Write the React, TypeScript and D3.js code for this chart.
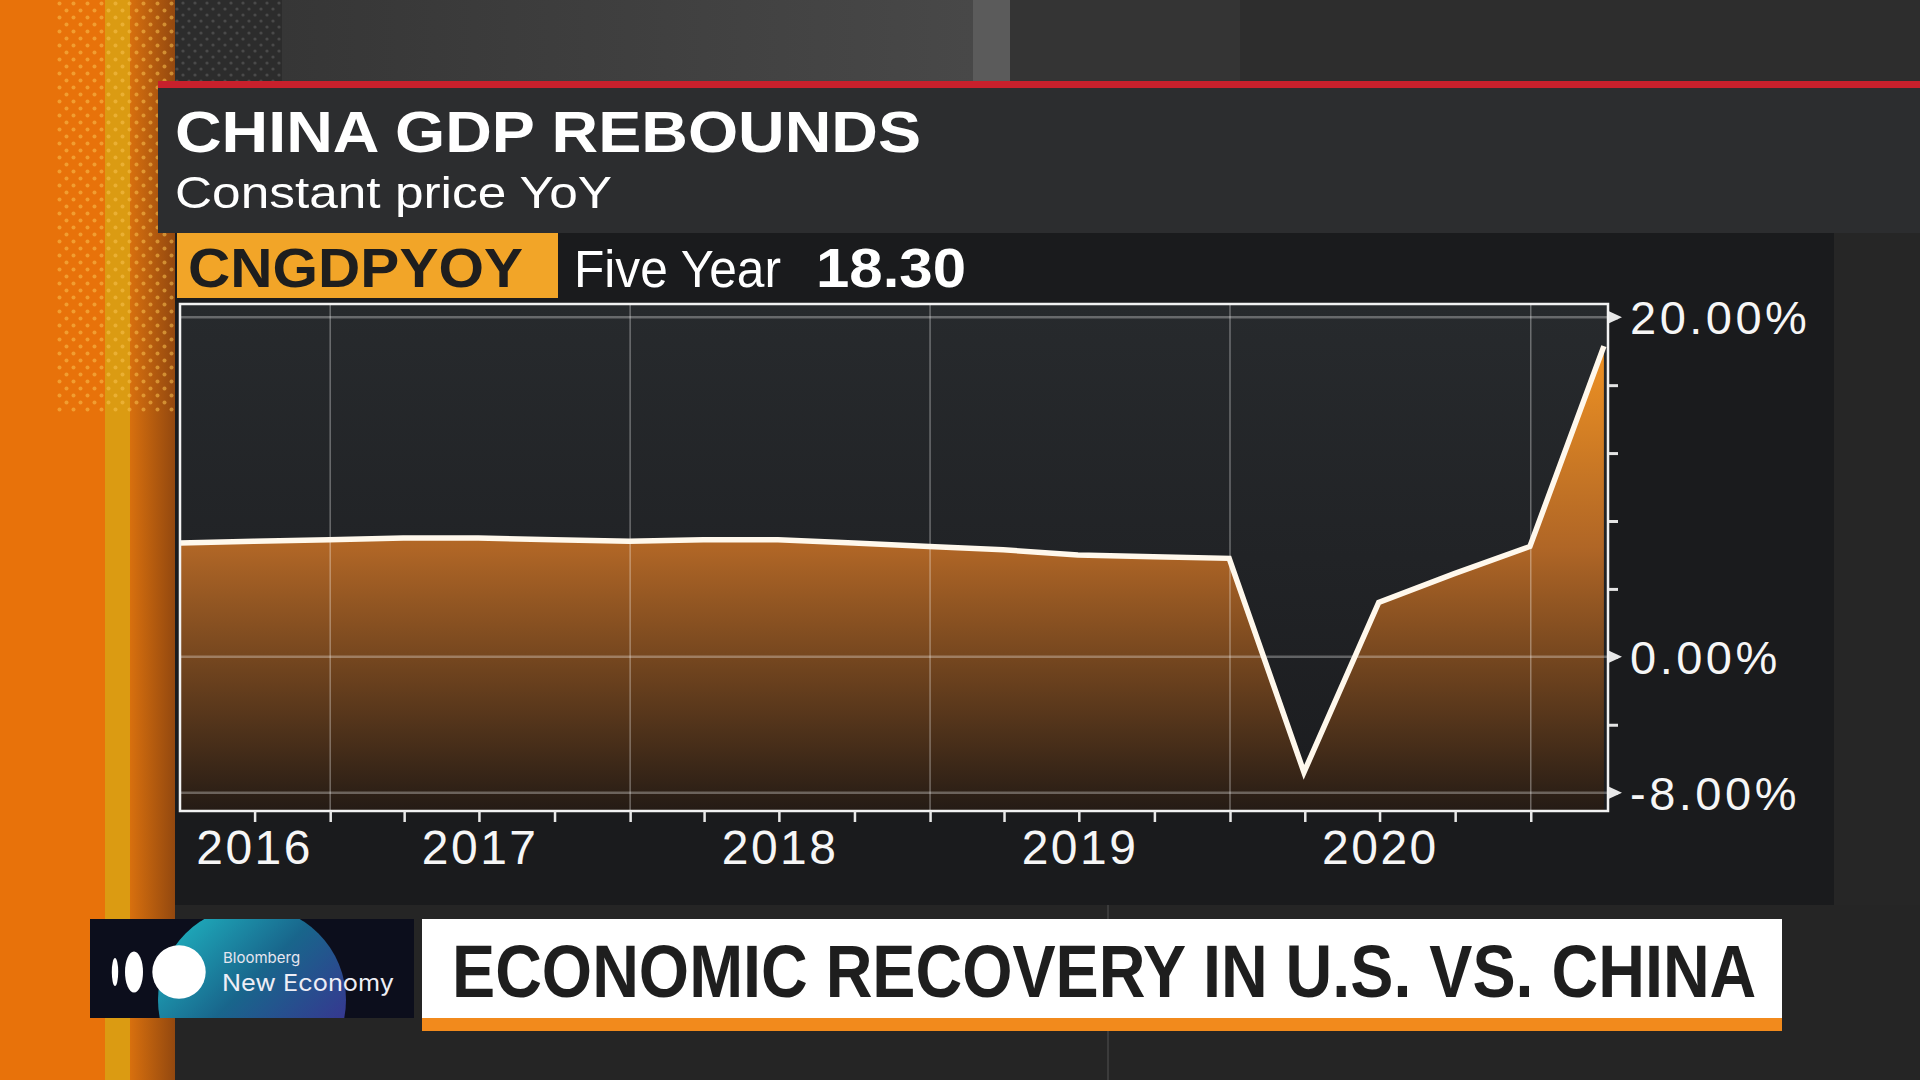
import { useEffect, useRef } from 'react'
import * as d3 from 'd3'

// China real GDP, YoY %, quarterly (plotted at quarter end)
const quarterEnds = [
    "2016-06-30", "2016-09-30", "2016-12-31",
    "2017-03-31", "2017-06-30", "2017-09-30", "2017-12-31",
    "2018-03-31", "2018-06-30", "2018-09-30", "2018-12-31",
    "2019-03-31", "2019-06-30", "2019-09-30", "2019-12-31",
    "2020-03-31", "2020-06-30", "2020-09-30", "2020-12-31",
    "2021-03-31"
]
const gdpYoY = [
    6.7, 6.8, 6.9,
    7.0, 7.0, 6.9, 6.8,
    6.9, 6.9, 6.7, 6.5,
    6.3, 6.0, 5.9, 5.8,
    -6.8, 3.2, 4.9, 6.5,
    18.3
]
const yearLabels = ["2016", "2017", "2018", "2019", "2020"]
const yMajorTicks = [20, 0, -8]
const yMajorLabels = ["20.00%", "0.00%", "-8.00%"]
const yMinorTicks = [-8, -4, 0, 4, 8, 12, 16, 20]
const title = "CHINA GDP REBOUNDS"
const subtitle = "Constant price YoY"
const ticker = "CNGDPYOY"
const period = "Five Year"
const headline = "ECONOMIC RECOVERY IN U.S. VS. CHINA"

const parseDate = d3.timeParse("%Y-%m-%d")

function GdpChart() {
    const ref = useRef(null)

    useEffect(() => {
        const left = 179
        const right = 1608
        const top = 304
        const bottom = 811

        const g = d3.select(ref.current)
        g.selectAll("*").remove()

        const data = quarterEnds.map((d, i) => ({ date: parseDate(d), value: gdpYoY[i] }))

        const xStart = parseDate("2016-07-01")
        const xEnd = parseDate("2021-04-05")

        const xScale = d3
            .scaleTime()
            .domain([xStart, xEnd])
            .range([left, right])

        const yScale = d3
            .scaleLinear()
            .domain([-9.08, 20.78])
            .range([bottom, top])

        const defs = g.append("defs")

        const fillGrad = defs
            .append("linearGradient")
            .attr("id", "areaFill")
            .attr("gradientUnits", "userSpaceOnUse")
            .attr("x1", 0).attr("x2", 0)
            .attr("y1", top).attr("y2", bottom)
        fillGrad.append("stop").attr("offset", 0).attr("stop-color", "#fc9b22")
        fillGrad.append("stop").attr("offset", 0.48).attr("stop-color", "#b06626")
        fillGrad.append("stop").attr("offset", 1).attr("stop-color", "#241b15")

        const bgGrad = defs
            .append("linearGradient")
            .attr("id", "plotBg")
            .attr("x1", 0).attr("x2", 0)
            .attr("y1", 0).attr("y2", 1)
        bgGrad.append("stop").attr("offset", 0).attr("stop-color", "#272a2d")
        bgGrad.append("stop").attr("offset", 1).attr("stop-color", "#1b1c1f")

        defs
            .append("clipPath")
            .attr("id", "plotClip")
            .append("rect")
            .attr("x", left + 1)
            .attr("y", top)
            .attr("width", right - left - 1)
            .attr("height", bottom - top)

        g
            .append("rect")
            .attr("x", left)
            .attr("y", top)
            .attr("width", right - left)
            .attr("height", bottom - top)
            .attr("fill", "url(#plotBg)")

        const plot = g.append("g").attr("clip-path", "url(#plotClip)")

        const area = d3
            .area()
            .x(d => xScale(d.date))
            .y0(bottom)
            .y1(d => yScale(d.value))

        const line = d3
            .line()
            .x(d => xScale(d.date))
            .y(d => yScale(d.value))

        plot
            .append("path")
            .datum(data)
            .attr("d", area)
            .attr("fill", "url(#areaFill)")

        // year gridlines
        plot
            .selectAll(".vgrid")
            .data(d3.timeYear.range(parseDate("2017-01-01"), parseDate("2021-02-01")))
            .enter()
            .append("line")
            .attr("x1", d => xScale(d))
            .attr("x2", d => xScale(d))
            .attr("y1", top)
            .attr("y2", bottom)
            .style("stroke", "rgba(255,255,255,0.33)")
            .style("stroke-width", 1.5)

        plot
            .selectAll(".hgrid")
            .data(yMajorTicks)
            .enter()
            .append("line")
            .attr("x1", left)
            .attr("x2", right)
            .attr("y1", d => yScale(d))
            .attr("y2", d => yScale(d))
            .style("stroke", "rgba(255,255,255,0.3)")
            .style("stroke-width", 2.5)

        plot
            .append("path")
            .datum(data)
            .attr("d", line)
            .style("fill", "none")
            .style("stroke", "#fff8ec")
            .style("stroke-width", 5.5)
            .style("stroke-linejoin", "miter")

        g
            .append("rect")
            .attr("x", left + 1)
            .attr("y", top)
            .attr("width", right - left - 1)
            .attr("height", bottom - top)
            .style("fill", "none")
            .style("stroke", "#f2f2f2")
            .style("stroke-width", 2.5)

        // right axis
        const yAxis = g
            .append("g")
            .attr("transform", `translate(${right + 1}, 0)`)
            .call(d3.axisRight(yScale).tickValues(yMinorTicks).tickSize(9).tickFormat(() => ""))
        yAxis.select(".domain").remove()
        yAxis.selectAll("line").style("stroke", "#e4e4e4").style("stroke-width", 3)

        g
            .selectAll(".marker")
            .data(yMajorTicks)
            .enter()
            .append("path")
            .attr("d", d => `M${right + 1},${yScale(d) - 6}L${right + 1},${yScale(d) + 6}L${right + 14},${yScale(d)}Z`)
            .attr("fill", "#e8e8e8")

        g
            .selectAll(".ylabel")
            .data(yMajorTicks)
            .enter()
            .append("text")
            .attr("x", right + 22)
            .attr("y", d => yScale(d) + 17)
            .attr("fill", "#f6f6f6")
            .style("font-family", "'Liberation Sans', Arial, sans-serif")
            .style("font-size", "47px")
            .style("letter-spacing", "3.5px")
            .text((d, i) => yMajorLabels[i])

        // bottom axis: quarter ticks
        const xAxis = g
            .append("g")
            .attr("transform", `translate(0, ${bottom})`)
            .call(d3
                .axisBottom(xScale)
                .tickValues(d3.timeMonth.every(3).range(parseDate("2016-10-01"), parseDate("2021-02-01")))
                .tickSize(11)
                .tickFormat(() => ""))
        xAxis.select(".domain").remove()
        xAxis.selectAll("line").style("stroke", "#e8e8e8").style("stroke-width", 2.5)

        g
            .selectAll(".xlabel")
            .data(yearLabels)
            .enter()
            .append("text")
            .attr("x", d => {
                const a = d3.max([parseDate(`${d}-01-01`), xStart])
                const b = d3.min([parseDate(`${+d + 1}-01-01`), xEnd])
                return (xScale(a) + xScale(b)) / 2
            })
            .attr("y", 864)
            .attr("text-anchor", "middle")
            .attr("fill", "#f6f6f6")
            .style("font-family", "'Liberation Sans', Arial, sans-serif")
            .style("font-size", "48px")
            .style("letter-spacing", "2.5px")
            .text(d => d)
    }, [])

    return <g ref={ref} />
}

function App() {
    const lastValue = d3.format(".2f")(gdpYoY[gdpYoY.length - 1])

    return (
        <svg
            width={1920}
            height={1080}
            style={{ position: "absolute", left: 0, top: 0, display: "block" }}
        >
            <defs>
                <pattern id="orangeDots" width="14" height="14" patternUnits="userSpaceOnUse">
                    <circle cx="3.5" cy="3.5" r="2" fill="#f7c04e" opacity="0.55" />
                    <circle cx="10.5" cy="10.5" r="2" fill="#f7c04e" opacity="0.55" />
                </pattern>
                <pattern id="grayDots" width="12" height="12" patternUnits="userSpaceOnUse">
                    <circle cx="3" cy="3" r="1.6" fill="#4a4a4a" />
                    <circle cx="9" cy="9" r="1.6" fill="#4a4a4a" />
                </pattern>
                <linearGradient id="orangeEdge" x1="0" x2="1" y1="0" y2="0">
                    <stop offset="0" stopColor="#d8700e" />
                    <stop offset="1" stopColor="#93480f" />
                </linearGradient>
                <linearGradient id="topBg" x1="0" x2="1" y1="0" y2="0">
                    <stop offset="0" stopColor="#363636" />
                    <stop offset="1" stopColor="#484848" />
                </linearGradient>
                <linearGradient id="glow" x1="0" x2="1" y1="0" y2="1">
                    <stop offset="0" stopColor="#22d6de" />
                    <stop offset="0.45" stopColor="#1a6f98" />
                    <stop offset="1" stopColor="#4d1fa0" />
                </linearGradient>
                <clipPath id="logoClip">
                    <rect x={90} y={919} width={324} height={99} />
                </clipPath>
            </defs>

            {/* page background */}
            <rect x={0} y={0} width={1920} height={1080} fill="#272727" />
            <rect x={175} y={0} width={107} height={81} fill="#2c2c2c" />
            <rect x={175} y={0} width={107} height={81} fill="url(#grayDots)" />
            <rect x={282} y={0} width={691} height={81} fill="url(#topBg)" />
            <rect x={973} y={0} width={37} height={81} fill="#5b5b5b" />
            <rect x={1010} y={0} width={230} height={81} fill="#343434" />
            <rect x={1240} y={0} width={680} height={81} fill="#2d2d2d" />
            <rect x={1834} y={233} width={86} height={672} fill="#262626" />
            <rect x={175} y={905} width={1745} height={175} fill="#252525" />
            <line x1={1108} x2={1108} y1={905} y2={1080} stroke="#3b3b3b" strokeWidth={2} />

            {/* left orange stripes */}
            <rect x={0} y={0} width={105} height={1080} fill="#e8720a" />
            <rect x={105} y={0} width={25} height={1080} fill="#db9b12" />
            <rect x={130} y={0} width={45} height={1080} fill="url(#orangeEdge)" />
            <rect x={55} y={0} width={120} height={412} fill="url(#orangeDots)" />

            {/* chart panel */}
            <rect x={175} y={233} width={1659} height={672} fill="#1a1b1d" />

            {/* title panel */}
            <rect x={158} y={81} width={1762} height={152} fill="#2c2d2f" />
            <rect x={158} y={81} width={1762} height={7} fill="#c8202c" />
            <text
                x={175}
                y={152}
                fill="#ffffff"
                fontFamily="'Liberation Sans', Arial, sans-serif"
                fontWeight="bold"
                fontSize={57}
                textLength={746}
                lengthAdjust="spacingAndGlyphs"
            >
                {title}
            </text>
            <text
                x={175}
                y={208}
                fill="#ffffff"
                fontFamily="'Liberation Sans', Arial, sans-serif"
                fontSize={45}
                textLength={437}
                lengthAdjust="spacingAndGlyphs"
            >
                {subtitle}
            </text>

            {/* ticker row */}
            <rect x={177} y={233} width={381} height={65} fill="#f2a528" />
            <text
                x={188}
                y={287}
                fill="#1e1e1e"
                fontFamily="'Liberation Sans', Arial, sans-serif"
                fontWeight="bold"
                fontSize={56}
                textLength={335}
                lengthAdjust="spacingAndGlyphs"
            >
                {ticker}
            </text>
            <text
                x={574}
                y={287}
                fill="#ffffff"
                fontFamily="'Liberation Sans', Arial, sans-serif"
                fontSize={51}
                textLength={207}
                lengthAdjust="spacingAndGlyphs"
            >
                {period}
            </text>
            <text
                x={816}
                y={287}
                fill="#ffffff"
                fontFamily="'Liberation Sans', Arial, sans-serif"
                fontWeight="bold"
                fontSize={56}
                textLength={150}
                lengthAdjust="spacingAndGlyphs"
            >
                {lastValue}
            </text>

            <GdpChart />

            {/* bottom banner */}
            <rect x={90} y={919} width={324} height={99} fill="#0c0e1c" />
            <g clipPath="url(#logoClip)">
                <circle cx={252} cy={1000} r={94} fill="url(#glow)" opacity={0.9} />
            </g>
            <ellipse cx={115} cy={972} rx={3.2} ry={14} fill="#ffffff" />
            <ellipse cx={134} cy={972} rx={9} ry={20.5} fill="#ffffff" />
            <circle cx={179} cy={972} r={26.7} fill="#ffffff" />
            <text x={223} y={963} fill="#e6e6f0" fontFamily="Inter, 'Liberation Sans', sans-serif" fontSize={15}>
                Bloomberg
            </text>
            <text
                x={222}
                y={991}
                fill="#eeeef6"
                fontFamily="Inter, 'Liberation Sans', sans-serif"
                fontSize={23}
                textLength={172}
                lengthAdjust="spacingAndGlyphs"
            >
                New Economy
            </text>

            <rect x={422} y={919} width={1360} height={99} fill="#ffffff" />
            <rect x={422} y={1018} width={1360} height={13} fill="#f28a1c" />
            <text
                transform="translate(452, 997) scale(0.874, 1)"
                fill="#1e1e1e"
                fontFamily="'Liberation Sans', Arial, sans-serif"
                fontWeight="bold"
                fontSize={74}
            >
                {headline}
            </text>
        </svg>
    )
}

export default App
